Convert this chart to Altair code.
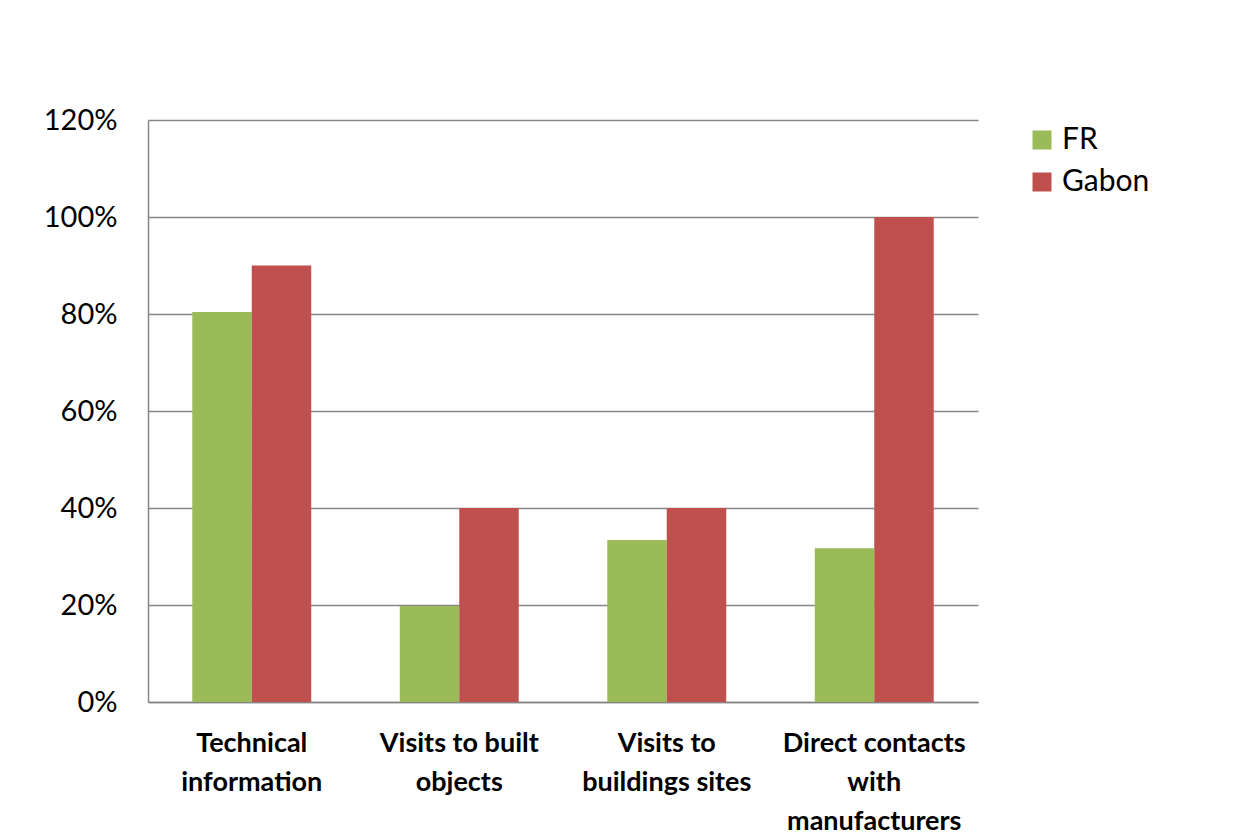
import altair as alt
import pandas as pd

categories = ["Technical|information", "Visits to built|objects", "Visits to|buildings sites", "Direct contacts|with|manufacturers"]
series = ["FR", "Gabon"]
fr_values = [0.804, 0.198, 0.334, 0.317]
gabon_values = [0.90, 0.40, 0.40, 1.00]
colors = ["#9BBB59", "#C0504D"]

rows = []
for c, f, g in zip(categories, fr_values, gabon_values):
    rows.append({"cat": c, "series": "FR", "value": f})
    rows.append({"cat": c, "series": "Gabon", "value": g})
df = pd.DataFrame(rows)

font = "Lato"

chart = alt.Chart(df).mark_bar().encode(
    x=alt.X("cat:N", sort=categories,
            scale=alt.Scale(paddingInner=0, paddingOuter=0),
            axis=alt.Axis(title=None, labelAngle=0, labelExpr="split(datum.label, '|')",
                          labelFontWeight="bold", labelFontSize=27, labelFont=font,
                          labelColor="#000000", labelPadding=28, labelLineHeight=39,
                          labelBaseline="top", labelLimit=400, labelOverlap=False,
                          ticks=False, domainColor="#868686", domainWidth=1.5, grid=False)),
    xOffset=alt.XOffset("series:N", sort=series,
                        scale=alt.Scale(paddingInner=0, paddingOuter=0.744)),
    y=alt.Y("value:Q", scale=alt.Scale(domain=[0, 1.2], nice=False),
            axis=alt.Axis(title=None, format=".0%", values=[0, 0.2, 0.4, 0.6, 0.8, 1.0, 1.2],
                          labelFontSize=29, labelFont=font, labelColor="#000000", labelPadding=31,
                          ticks=False, domainColor="#868686", domainWidth=1.5,
                          gridColor="#868686", gridWidth=1.5)),
    color=alt.Color("series:N", sort=series,
                    scale=alt.Scale(domain=series, range=colors),
                    legend=alt.Legend(title=None, orient="none", legendX=879, legendY=5,
                                      symbolType="square", symbolSize=361, symbolStrokeWidth=0,
                                      labelFontSize=30, labelFont=font, labelColor="#000000",
                                      rowPadding=12, labelOffset=5)),
).properties(
    width=830, height=582,
    autosize=alt.AutoSizeParams(type="none"),
    padding={"left": 140, "top": 112, "right": 240, "bottom": 134},
).configure(background="#ffffff").configure_view(stroke=None, strokeWidth=0)

chart.save("out.html", embed_options={"renderer": "svg", "actions": False})
